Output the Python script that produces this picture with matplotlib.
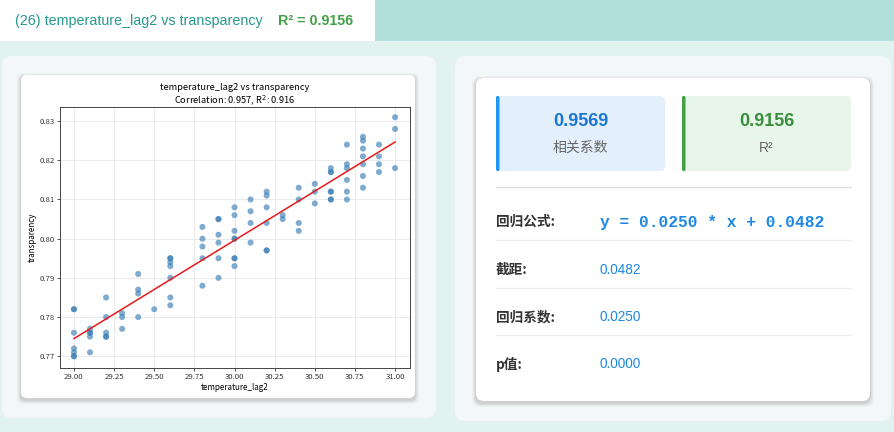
import matplotlib
matplotlib.use('Agg')
import matplotlib.pyplot as plt
from matplotlib.patches import FancyBboxPatch, Rectangle
import numpy as np

plt.rcParams['font.family'] = ['Liberation Sans', 'Noto Sans CJK SC', 'DejaVu Sans']

# 数据
temperature_lag2 = (
    [29.0] * 7 + [29.1] * 5 + [29.2] * 5 + [29.3] * 3 + [29.4] * 4 + [29.5] * 1 +
    [29.6] * 7 + [29.8] * 5 + [29.9] * 6 + [30.0] * 8 + [30.1] * 4 + [30.2] * 6 +
    [30.3] * 2 + [30.4] * 4 + [30.5] * 3 + [30.6] * 7 + [30.7] * 6 + [30.8] * 7 +
    [30.9] * 4 + [31.0] * 3
)
transparency = [
    0.782, 0.782, 0.776, 0.772, 0.771, 0.770, 0.770,
    0.777, 0.776, 0.776, 0.775, 0.771,
    0.785, 0.780, 0.776, 0.775, 0.775,
    0.781, 0.780, 0.777,
    0.791, 0.787, 0.786, 0.780,
    0.782,
    0.795, 0.795, 0.794, 0.793, 0.790, 0.785, 0.783,
    0.803, 0.800, 0.798, 0.795, 0.788,
    0.805, 0.805, 0.801, 0.799, 0.795, 0.790,
    0.808, 0.806, 0.802, 0.800, 0.800, 0.795, 0.795, 0.793,
    0.810, 0.807, 0.804, 0.799,
    0.812, 0.811, 0.808, 0.804, 0.797, 0.797,
    0.806, 0.805,
    0.813, 0.810, 0.804, 0.802,
    0.814, 0.812, 0.809,
    0.818, 0.817, 0.817, 0.812, 0.812, 0.810, 0.810,
    0.824, 0.819, 0.818, 0.815, 0.812, 0.810,
    0.826, 0.825, 0.823, 0.821, 0.819, 0.816, 0.813,
    0.824, 0.821, 0.819, 0.817,
    0.831, 0.828, 0.818,
]

pair_title = '(26) temperature_lag2 vs transparency'
r2_text = 'R² = 0.9156'
chart_title = 'temperature_lag2 vs transparency\nCorrelation: 0.957, R$^2$: 0.916'
metric_values = ['0.9569', '0.9156']
metric_labels = ['相关系数', 'R²']
row_labels = ['回归公式:', '截距:', '回归系数:', 'p值:']
row_values = ['y = 0.0250 * x + 0.0482', '0.0482', '0.0250', '0.0000']
x_ticks = [29.0, 29.25, 29.5, 29.75, 30.0, 30.25, 30.5, 30.75, 31.0]
y_ticks = [0.77, 0.78, 0.79, 0.80, 0.81, 0.82, 0.83]

W, H = 895, 432
fig = plt.figure(figsize=(W / 100, H / 100), dpi=100)
fig.patch.set_facecolor('#e2f2ef')

# 背景画布, 像素坐标
bg = fig.add_axes([0, 0, 1, 1], zorder=0)
bg.set_xlim(0, W)
bg.set_ylim(H, 0)
bg.axis('off')


def box(x0, y0, x1, y1, fc, r=6, ec='none', lw=0, z=1, shadow=False):
    if shadow:
        for k, a in [(4, 0.025), (3, 0.035), (2, 0.045), (1, 0.05)]:
            bg.add_patch(FancyBboxPatch((x0 + r - k, y0 + r - k + 2),
                                        x1 - x0 - 2 * r + 2 * k, y1 - y0 - 2 * r + 2 * k,
                                        boxstyle=f'round,pad={r}', fc='#000000', ec='none',
                                        alpha=a, zorder=z - 0.5))
    bg.add_patch(FancyBboxPatch((x0 + r, y0 + r), x1 - x0 - 2 * r, y1 - y0 - 2 * r,
                                boxstyle=f'round,pad={r}', fc=fc, ec=ec, lw=lw, zorder=z))


# 顶部标题栏
bg.add_patch(Rectangle((0, 0), 375, 41, fc='white', ec='none', zorder=1))
bg.add_patch(Rectangle((375, 0), W - 375, 41, fc='#b2dfdb', ec='none', zorder=1))
bg.text(15, 21, pair_title, color='#26998c', fontsize=10.3, va='center', zorder=2)
bg.text(278, 21, r2_text, color='#43a047', fontsize=10.3, fontweight='bold',
        va='center', zorder=2)

# 左右面板
box(2, 56, 436, 418, '#f4f7f7', r=10)
box(455, 56, 891, 421, '#f4f7f7', r=10)
box(21, 75, 415, 398, 'white', r=6, z=2, shadow=True)
box(476, 78, 870, 401, 'white', r=8, z=2, shadow=True)

# 指标卡片
metric_colors = [('#e3f0fc', '#2196f3', '#1976d2'), ('#e8f5e9', '#43a047', '#388e3c')]
for i, (val, lab) in enumerate(zip(metric_values, metric_labels)):
    x0 = 496 + i * 186
    x1 = x0 + 169
    fc, bar, tc = metric_colors[i]
    box(x0, 96, x1, 171, fc, r=5, z=3)
    bg.add_patch(FancyBboxPatch((x0 + 1.5, 97.5), 0.5, 72, boxstyle='round,pad=1.5',
                                fc=bar, ec='none', zorder=4))
    cx = (x0 + x1) / 2
    bg.text(cx, 121, val, color=tc, fontsize=13, fontweight='bold',
            ha='center', va='center', zorder=5)
    bg.text(cx, 148, lab, color='#666666', fontsize=10,
            family=['Noto Sans CJK SC', 'DejaVu Sans'] if i == 0 else ['Liberation Sans'],
            ha='center', va='center', zorder=5)

# 分隔线和行
bg.plot([496, 851], [187, 187], color='#dddddd', lw=1, zorder=3)
row_y = [222, 270, 317, 364]
for j, (lab, val) in enumerate(zip(row_labels, row_values)):
    y = row_y[j]
    bg.text(496, y, lab, color='#333333', fontsize=9.8, fontweight='bold',
            family=['Noto Sans CJK SC', 'DejaVu Sans'], va='center', zorder=5)
    if j == 0:
        bg.text(600, y, val, color='#1e88e5', fontsize=11.7, fontweight='bold',
                family=['Liberation Mono', 'DejaVu Sans Mono'], va='center', zorder=5)
    else:
        bg.text(600, y, val, color='#1e88e5', fontsize=9.8, va='center', zorder=5)
    if j < 3:
        bg.plot([496, 851], [y + 18, y + 18], color='#eeeeee', lw=1, zorder=3)

# 散点图
ax = fig.add_axes([60 / W, 1 - 368 / H, 350 / W, 261 / H], zorder=3)
ax.set_facecolor('white')
x = np.array(temperature_lag2)
y = np.array(transparency)
ax.scatter(x, y, s=19, color='#3b7fb5', alpha=0.65, edgecolors='none', zorder=2)
k, b = np.polyfit(x, y, 1)
xs = np.array([x.min(), x.max()])
ax.plot(xs, k * xs + b, color='#e8191c', lw=1.1, zorder=3)

cf = ['Noto Sans CJK SC', 'DejaVu Sans']
ax.set_title(chart_title, fontsize=6.7, family=cf, pad=3, linespacing=1.1)
ax.set_xlabel('temperature_lag2', fontsize=5.8, family=cf, labelpad=1.5)
ax.set_ylabel('transparency', fontsize=5.8, family=cf, labelpad=2)
ax.set_xticks(x_ticks)
ax.set_xticklabels([f'{t:.2f}' for t in x_ticks])
ax.set_yticks(y_ticks)
ax.set_yticklabels([f'{t:.2f}' for t in y_ticks])
ax.set_xlim(28.913, 31.093)
ax.set_ylim(0.767, 0.8336)
ax.tick_params(labelsize=5.6, length=2, width=0.6, pad=1.5, colors='#333333')
for lbl in ax.get_xticklabels() + ax.get_yticklabels():
    lbl.set_family(cf)
ax.grid(True, color='#e6e6e6', lw=0.6)
ax.set_axisbelow(True)
for s in ax.spines.values():
    s.set_linewidth(0.7)
    s.set_color('#444444')

fig.savefig('out.png', dpi=100)
